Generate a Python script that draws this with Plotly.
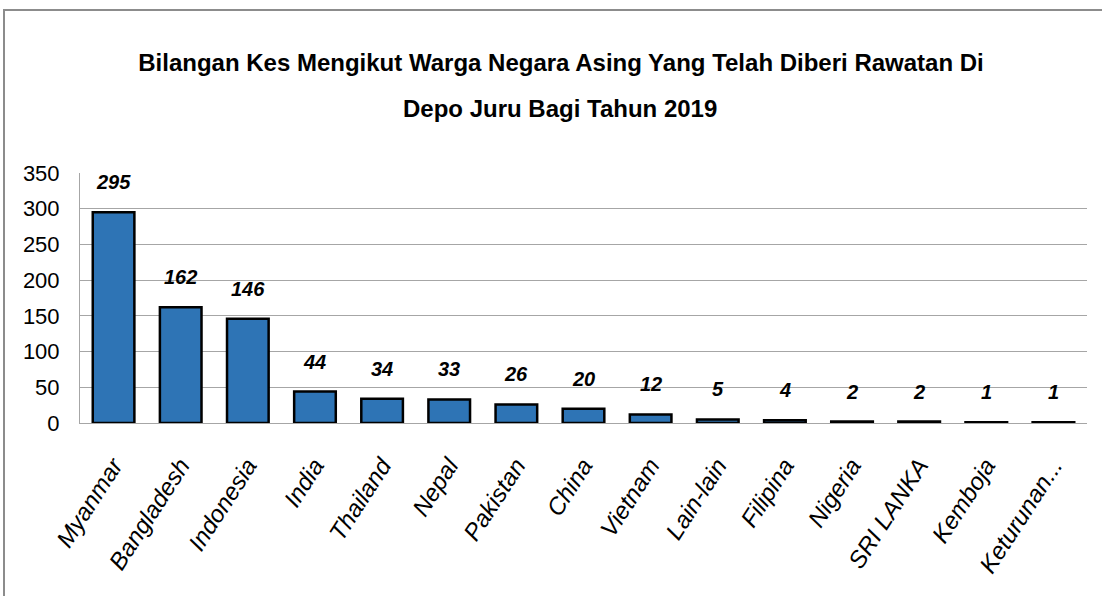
import plotly.graph_objects as go

countries = ["Myanmar", "Bangladesh", "Indonesia", "India", "Thailand", "Nepal",
             "Pakistan", "China", "Vietnam", "Lain-lain", "Filipina", "Nigeria",
             "SRI LANKA", "Kemboja", "Keturunan..."]
cases = [295, 162, 146, 44, 34, 33, 26, 20, 12, 5, 4, 2, 2, 1, 1]
y_ticks = [0, 50, 100, 150, 200, 250, 300, 350]

title_line1 = "Bilangan Kes Mengikut Warga Negara Asing Yang Telah Diberi Rawatan Di"
title_line2 = "Depo Juru Bagi Tahun 2019"

FONT = "Liberation Sans, Arial, sans-serif"

W, H = 1102, 596
ml, mr, mt, mb = 80, 15, 173, 173
pw, ph = W - ml - mr, H - mt - mb

def px_x(x):
    return (x - ml) / pw

def px_y(y):
    return (H - mb - y) / ph

fig = go.Figure()
fig.add_trace(go.Bar(
    x=countries, y=cases,
    marker=dict(color="#2E74B5", line=dict(color="black", width=2.5)),
    hoverinfo="x+y",
))

for c, v in zip(countries, cases):
    fig.add_annotation(
        x=c, y=v, text=f"<i>{v}</i>", showarrow=False,
        yanchor="middle", yshift=30,
        font=dict(family=FONT, size=20, color="black", weight="bold"),
    )

# second line of the title
fig.add_annotation(
    x=px_x(560), xref="paper", y=px_y(108), yref="paper",
    xanchor="center", yanchor="middle", showarrow=False,
    text=title_line2,
    font=dict(family=FONT, size=24, color="black", weight="bold"),
)

fig.add_shape(type="rect", xref="paper", yref="paper",
              x0=px_x(4), x1=px_x(1115), y0=px_y(610), y1=px_y(10),
              line=dict(color="#8c8c8c", width=2), fillcolor="rgba(0,0,0,0)",
              layer="below")

fig.update_layout(
    width=W, height=H,
    margin=dict(l=ml, r=mr, t=mt, b=mb, autoexpand=False),
    paper_bgcolor="white", plot_bgcolor="white",
    bargap=0.38,
    showlegend=False,
    title=dict(
        text=title_line1,
        x=561 / W, xref="container", xanchor="center",
        y=1 - 63 / H, yref="container", yanchor="middle",
        font=dict(family=FONT, size=24, color="black", weight="bold"),
    ),
    xaxis=dict(
        automargin=False,
        tickangle=-57,
        tickfont=dict(family=FONT, size=24, color="black", style="italic"),
        showline=True, linecolor="#a6a6a6", linewidth=1,
        ticks="", showgrid=False, ticklabelstandoff=18,
    ),
    yaxis=dict(
        automargin=False,
        range=[0, 350], tickvals=y_ticks,
        tickfont=dict(family=FONT, size=22, color="black"),
        showgrid=True, gridcolor="#a6a6a6", gridwidth=1,
        showline=True, linecolor="#a6a6a6", linewidth=1,
        ticks="", ticklabelstandoff=15, zeroline=False,
    ),
)

fig.write_html("out.html",
               config={"displayModeBar": False},
               post_script="document.body.style.margin='0';document.body.style.overflow='hidden';")
